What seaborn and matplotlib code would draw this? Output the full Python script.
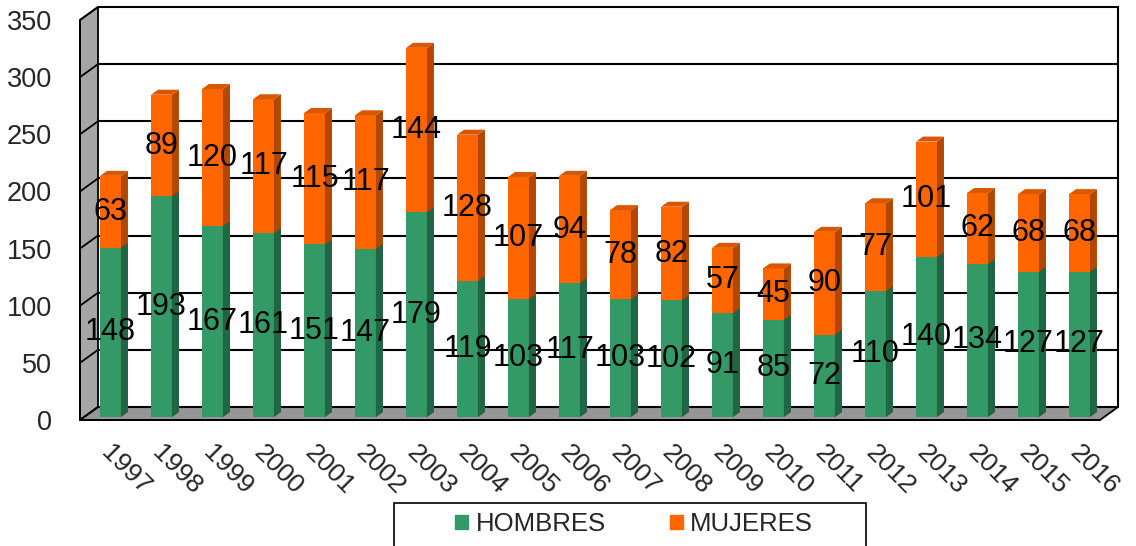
import numpy as np
import pandas as pd
import seaborn as sns
import matplotlib.pyplot as plt
from matplotlib.patches import Polygon, Rectangle, Patch
from matplotlib.transforms import ScaledTranslation, IdentityTransform

years = [str(y) for y in range(1997, 2017)]
hombres = [148, 193, 167, 161, 151, 147, 179, 119, 103, 117,
           103, 102, 91, 85, 72, 110, 140, 134, 127, 127]
mujeres = [63, 89, 120, 117, 115, 117, 144, 128, 107, 94,
           78, 82, 57, 45, 90, 77, 101, 62, 68, 68]
yticks = [0, 50, 100, 150, 200, 250, 300, 350]

df = pd.DataFrame({"year": years, "HOMBRES": hombres, "MUJERES": mujeres})
df["total"] = df["HOMBRES"] + df["MUJERES"]

green, green_side = "#339966", "#1f6644"
orange, orange_side, orange_top = "#ff6600", "#b34700", "#d95700"
wall, floor = "#a6a6a6", "#969696"

sns.set_style("white")
plt.rcParams["font.family"] = ["Liberation Sans", "DejaVu Sans"]

W, H, DPI = 1136, 546, 100
fig = plt.figure(figsize=(W / DPI, H / DPI), dpi=DPI)
# front plane of the pseudo-3D box, in pixels
ax = fig.add_axes([80 / W, (H - 420) / H, 1020 / W, 400 / H])
ax.set_xlim(-0.5, 19.5)
ax.set_ylim(0, 350)

DX, DY = 18, 13      # depth of the back wall (px)
BX, BY = 5, 3        # bars sit a little behind the front edge
SD, SV = 7, 5        # bar side/top depth

def px(x, y, dx=0, dy=0):
    X, Y = ax.transData.transform((x, y))
    return (X + dx, Y + dy)

ident = IdentityTransform()

def add_line(a, b, lw, z):
    ax.add_line(plt.Line2D([a[0], b[0]], [a[1], b[1]], color="black", lw=lw,
                           transform=ident, zorder=z, clip_on=False))

# walls
left_wall = [px(-0.5, 0), px(-0.5, 350), px(-0.5, 350, DX, DY), px(-0.5, 0, DX, DY)]
ax.add_patch(Polygon(left_wall, closed=True, fc=wall, ec="black", lw=1.3,
                     transform=ident, zorder=0, clip_on=False))
floor_poly = [px(-0.5, 0), px(19.5, 0), px(19.5, 0, DX, DY), px(-0.5, 0, DX, DY)]
ax.add_patch(Polygon(floor_poly, closed=True, fc=floor, ec="black", lw=1.3,
                     transform=ident, zorder=0, clip_on=False))

# gridlines on back wall and diagonals on left wall
for v in yticks:
    a, b = px(-0.5, v, DX, DY), px(19.5, v, DX, DY)
    add_line(a, b, 1.5, 0.5)
    add_line(px(-0.5, v), a, 1.3, 0.5)
add_line(px(19.5, 0, DX, DY), px(19.5, 350, DX, DY), 1.5, 0.5)

# bars
sns.barplot(data=df, x="year", y="total", color=orange, saturation=1,
            width=0.41, ax=ax, zorder=2)
n_orange = len(years)
sns.barplot(data=df, x="year", y="HOMBRES", color=green, saturation=1,
            width=0.41, ax=ax, zorder=2)
ax.set_xlim(-0.5, 19.5)
ax.set_ylim(0, 350)

shift = ax.transData + ScaledTranslation(BX / DPI, BY / DPI, fig.dpi_scale_trans)
bars = [p for p in ax.patches if isinstance(p, Rectangle)]
for i, p in enumerate(bars):
    p.set_transform(shift)
    p.set_linewidth(0)
    x0, y0 = p.get_x(), p.get_y()
    x1, y1 = x0 + p.get_width(), y0 + p.get_height()
    is_orange = i < n_orange
    side = [px(x1, y0, BX, BY), px(x1, y0, BX + SD, BY + SV),
            px(x1, y1, BX + SD, BY + SV), px(x1, y1, BX, BY)]
    ax.add_patch(Polygon(side, closed=True, lw=0, transform=ident, clip_on=False,
                         fc=orange_side if is_orange else green_side, zorder=2.5))
    if is_orange:
        top = [px(x0, y1, BX, BY), px(x1, y1, BX, BY),
               px(x1, y1, BX + SD, BY + SV), px(x0, y1, BX + SD, BY + SV)]
        ax.add_patch(Polygon(top, closed=True, lw=0, transform=ident, clip_on=False,
                             fc=orange_top, zorder=2.5))

# value labels at segment centres
for i, (h, m) in enumerate(zip(hombres, mujeres)):
    ax.text(i, h / 2, str(h), transform=shift, ha="center", va="center",
            fontsize=22, color="black", zorder=4)
    ax.text(i, h + m / 2, str(m), transform=shift, ha="center", va="center",
            fontsize=22, color="black", zorder=4)

# axes styling
for s in ["top", "right"]:
    ax.spines[s].set_visible(False)
for s in ["left", "bottom"]:
    ax.spines[s].set_color("black")
    ax.spines[s].set_linewidth(1.3)
    ax.spines[s].set_zorder(3)
ax.patch.set_alpha(0)
ax.set_xlabel("")
ax.set_ylabel("")
ax.set_yticks(yticks)
ax.set_yticklabels([str(v) for v in yticks], fontsize=19.5)
ax.tick_params(axis="y", length=8, width=1.3, color="black", direction="out", pad=12)
ax.set_xticks(range(len(years)))
ax.set_xticklabels(years, fontsize=19, rotation=-45, ha="left",
                   rotation_mode="anchor")
ax.tick_params(axis="x", which="major", length=0, pad=15)
for lab in ax.get_xticklabels():
    lab.set_transform(lab.get_transform() +
                      ScaledTranslation(8 / DPI, 0, fig.dpi_scale_trans))
ax.set_xticks(np.arange(-0.5, 20, 1), minor=True)
ax.tick_params(axis="x", which="minor", length=8, width=1.3, color="black",
               direction="out")

# legend box (cut off at the bottom like the original)
fig.add_artist(Rectangle((394 / W, (H - 560) / H), 472 / W, 57 / H,
                         transform=fig.transFigure, fc="white", ec="black",
                         lw=1.2, clip_on=False))
handles = [Patch(color=green, label="HOMBRES"), Patch(color=orange, label="MUJERES")]
fig.legend(handles=handles, loc="center", bbox_to_anchor=(634 / W, (H - 524) / H),
           ncol=2, frameon=False, fontsize=18.5, handlelength=0.5,
           handleheight=0.5, handletextpad=0.3, columnspacing=2.5)

fig.savefig("out.png", dpi=DPI)
